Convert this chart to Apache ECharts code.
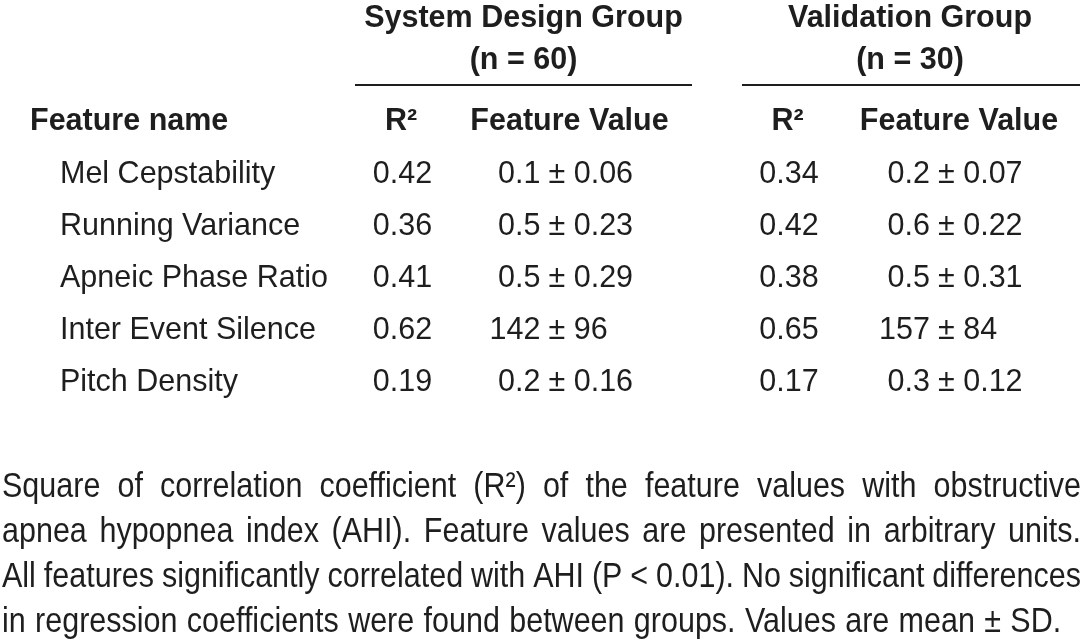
<!DOCTYPE html>
<html>
<head>
<meta charset="utf-8">
<script src="https://cdn.jsdelivr.net/npm/echarts@6/dist/echarts.min.js"></script>
<style>
html,body{margin:0;padding:0;background:#fff;}
#main{width:1084px;height:639px;}
</style>
</head>
<body>
<div id="main"></div>
<script>
// ---- data ----
const features = ['Mel Cepstability', 'Running Variance', 'Apneic Phase Ratio', 'Inter Event Silence', 'Pitch Density'];
const columnHeaders = ['R²', 'Feature Value'];
const groupTitles = ['System Design Group', 'Validation Group'];
const groupSizes = ['(n = 60)', '(n = 30)'];
const designR2 = ['0.42', '0.36', '0.41', '0.62', '0.19'];
const designMean = ['0.1', '0.5', '0.5', '142', '0.2'];
const designSD = ['0.06', '0.23', '0.29', '96', '0.16'];
const validR2 = ['0.34', '0.42', '0.38', '0.65', '0.17'];
const validMean = ['0.2', '0.6', '0.5', '157', '0.3'];
const validSD = ['0.07', '0.22', '0.31', '84', '0.12'];
const rowHeader = 'Feature name';
const footnoteLines = [
  'Square of correlation coefficient (R²) of the feature values with obstructive',
  'apnea hypopnea index (AHI). Feature values are presented in arbitrary units.',
  'All features significantly correlated with AHI (P < 0.01). No significant differences',
  'in regression coefficients were found between groups. Values are mean ± SD.'
];

// ---- styling ----
const FONT = '"Liberation Sans", Arial, Helvetica, sans-serif';
const FS = 30.5;
const INK = '#1e1e1e';

const chart = echarts.init(document.getElementById('main'), null, {renderer: 'canvas'});

// measure helper for justified footnote
const cv = document.createElement('canvas').getContext('2d');
cv.font = FS + 'px ' + FONT;
function justifyLine(text, x0, x1, y, justify) {
  const words = text.split(' ');
  const widths = words.map(w => cv.measureText(w).width);
  const total = widths.reduce((a, b) => a + b, 0);
  const gap = justify ? (x1 - x0 - total) / (words.length - 1) : cv.measureText(' ').width * 1.1;
  const out = [];
  let x = x0;
  words.forEach((w, i) => {
    out.push({type: 'text', x: x, y: y, scaleY: 1.15, style: {text: w, font: FS + 'px ' + FONT, fill: INK, align: 'left', verticalAlign: 'middle'}});
    x += widths[i] + gap;
  });
  return out;
}

const gridDefs = [
  {left: 325, width: 310},
  {left: 710, width: 316}
];
const TOP = 149, ROWH = 52;

function valueSeries(gridIdx, r2, mean, sd) {
  return [
    {
      type: 'custom', xAxisIndex: gridIdx, yAxisIndex: gridIdx, silent: true,
      data: r2.map((v, i) => [0, i, v]),
      renderItem: function (params, api) {
        const p = api.coord([api.value(0), api.value(1)]);
        return {type: 'text', x: p[0], y: p[1], style: {text: r2[params.dataIndex], font: FS + 'px ' + FONT, fill: INK, align: 'center', verticalAlign: 'middle'}};
      }
    },
    {
      type: 'custom', xAxisIndex: gridIdx, yAxisIndex: gridIdx, silent: true,
      data: mean.map((v, i) => [1, i, v]),
      renderItem: function (params, api) {
        const p = api.coord([api.value(0), api.value(1)]);
        const i = params.dataIndex;
        return {type: 'group', children: [
          {type: 'text', x: p[0] - 17, y: p[1], style: {text: mean[i], font: FS + 'px ' + FONT, fill: INK, align: 'right', verticalAlign: 'middle'}},
          {type: 'text', x: p[0] - 9, y: p[1], style: {text: '± ' + sd[i], font: FS + 'px ' + FONT, fill: INK, align: 'left', verticalAlign: 'middle'}}
        ]};
      }
    }
  ];
}

const graphics = [];
// group titles and underlines
const groupSpans = [[355, 692], [742, 1080]];
groupTitles.forEach((t, g) => {
  const cx = (groupSpans[g][0] + groupSpans[g][1]) / 2 + (g === 0 ? 0 : -1);
  graphics.push({type: 'text', x: cx, y: 19, style: {text: t, font: 'bold ' + FS + 'px ' + FONT, fill: INK, align: 'center', verticalAlign: 'middle'}});
  graphics.push({type: 'text', x: cx, y: 61, style: {text: groupSizes[g], font: 'bold ' + FS + 'px ' + FONT, fill: INK, align: 'center', verticalAlign: 'middle'}});
  graphics.push({type: 'line', shape: {x1: groupSpans[g][0], y1: 85, x2: groupSpans[g][1], y2: 85}, style: {stroke: INK, lineWidth: 2}});
});
// row header
graphics.push({type: 'text', x: 30, y: 121.5, style: {text: rowHeader, font: 'bold ' + FS + 'px ' + FONT, fill: INK, align: 'left', verticalAlign: 'middle'}});
// footnote
const footY = [487.5, 532, 577, 622];
footnoteLines.forEach((l, i) => {
  graphics.push.apply(graphics, justifyLine(l, 2, 1081, footY[i], i < footnoteLines.length - 1));
});

const option = {
  backgroundColor: '#ffffff',
  animation: false,
  grid: gridDefs.map(g => ({left: g.left, width: g.width, top: TOP, height: ROWH * features.length, containLabel: false})),
  xAxis: gridDefs.map((g, gi) => ({
    type: 'category', gridIndex: gi, position: 'top', data: columnHeaders,
    axisLine: {show: false}, axisTick: {show: false}, splitLine: {show: false},
    axisLabel: {
      interval: 0, hideOverlap: false,
      margin: 12.5, color: INK, fontFamily: FONT, fontSize: FS, fontWeight: 'bold', lineHeight: 30,
      formatter: function (v, idx) { return idx === 1 ? '{fv|' + v + '}' : '{r|' + v + '}'; },
      rich: {
        fv: {fontFamily: FONT, fontSize: FS, fontWeight: 'bold', color: INK, padding: [0, 0, 0, 24]},
        r: {fontFamily: FONT, fontSize: FS, fontWeight: 'bold', color: INK, padding: [0, 3, 0, 0]}
      }
    }
  })),
  yAxis: gridDefs.map((g, gi) => ({
    type: 'category', gridIndex: gi, inverse: true, data: features,
    axisLine: {show: false}, axisTick: {show: false}, splitLine: {show: false},
    axisLabel: gi === 0 ? {show: true, interval: 0, align: 'left', margin: 325 - 60, color: INK, fontFamily: FONT, fontSize: FS} : {show: false}
  })),
  series: [].concat(valueSeries(0, designR2, designMean, designSD), valueSeries(1, validR2, validMean, validSD)),
  graphic: {elements: graphics}
};
chart.setOption(option);
</script>
</body>
</html>
